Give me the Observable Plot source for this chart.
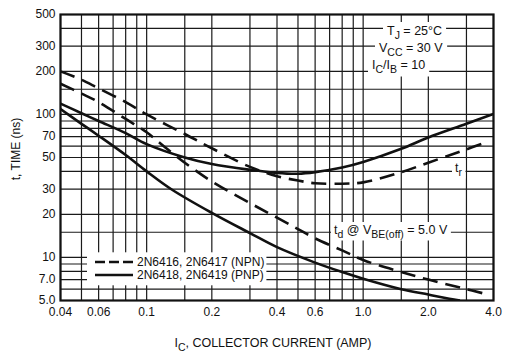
<!DOCTYPE html>
<html><head><meta charset="utf-8">
<script src="https://cdn.jsdelivr.net/npm/d3@7"></script>
<script src="https://cdn.jsdelivr.net/npm/@observablehq/plot@0.6"></script>
<style>html,body{margin:0;padding:0;background:#fff;}</style>
</head><body><div id="chart"></div>
<script>
// ---- data ----
const trNpnCurrent = [0.04,0.05,0.06,0.08,0.1,0.15,0.2,0.3,0.4,0.5,0.6,0.8,1.0,1.5,2.0,3.0,3.6];
const trNpnTime    = [200,175,152,122,100,73,58,43,37,34.5,33,32.8,33.5,39.5,46,57,63];
const tdNpnCurrent = [0.04,0.05,0.06,0.08,0.1,0.12,0.15,0.2,0.3,0.4,0.5,0.6,0.8,1.0,1.5,2.0,3.0,3.6];
const tdNpnTime    = [164,140,122,93,75,60,46,34,24,19,15.8,13.6,11.2,9.6,7.9,7.0,6.0,5.6];
const trPnpCurrent = [0.04,0.05,0.06,0.08,0.1,0.15,0.2,0.3,0.4,0.5,0.6,0.8,1.0,1.5,2.0,3.0,4.0];
const trPnpTime    = [119,102,90,74,62,50,45,41,39,38.5,39.5,42.5,46.5,57.5,69,86,101];
const tdPnpCurrent = [0.04,0.05,0.06,0.08,0.1,0.13,0.2,0.3,0.4,0.6,0.8,1.0,1.5,2.0,2.5,2.8];
const tdPnpTime    = [109,86,71,52,40,30,20.5,14.8,11.8,9.2,7.9,7.1,6.0,5.5,5.15,5.0];

const xTicks = [0.04,0.06,0.1,0.2,0.4,0.6,1,2,4];
const xTickLabels = ["0.04","0.06","0.1","0.2","0.4","0.6","1.0","2.0","4.0"];
const yTicks = [5,7,10,20,30,50,70,100,200,300,500];
const yTickLabels = ["5.0","7.0","10","20","30","50","70","100","200","300","500"];
const xGrid = [0.04,0.05,0.06,0.07,0.08,0.09,0.1,0.15,0.2,0.3,0.4,0.5,0.6,0.7,0.8,0.9,1,1.5,2,3,4];
const yGrid = [5,6,7,8,9,10,15,20,30,40,50,60,70,80,90,100,150,200,300,400,500];

const seriesNames = ["2N6416, 2N6417 (NPN)", "2N6418, 2N6419 (PNP)"];

// ---- build ----
const FONT = "'Liberation Sans', Arial, Helvetica, sans-serif";
const INK = "#111";
const zip = (xs, ys) => xs.map((x, i) => ({x, y: ys[i]}));
const xLab = new Map(xTicks.map((v, i) => [v, xTickLabels[i]]));
const yLab = new Map(yTicks.map((v, i) => [v, yTickLabels[i]]));
const dash = "15,8";
const lineOpts = (dashed) => ({x: "x", y: "y", stroke: INK, strokeWidth: 2.6, curve: "catmull-rom", clip: true, strokeDasharray: dashed ? dash : null, strokeLinecap: "butt"});

const plot = Plot.plot({
  width: 505, height: 354,
  marginLeft: 60, marginRight: 12, marginTop: 14, marginBottom: 54,
  style: {fontFamily: FONT, fontSize: "12px", color: INK, background: "#fff", overflow: "visible"},
  x: {type: "log", domain: [0.04, 4], axis: null},
  y: {type: "log", domain: [5, 500], axis: null},
  marks: [
    Plot.ruleX(xGrid, {stroke: "#1a1a1a", strokeWidth: 1.2}),
    Plot.ruleY(yGrid, {stroke: "#1a1a1a", strokeWidth: 1.2}),
    Plot.line(zip(trNpnCurrent, trNpnTime), lineOpts(true)),
    Plot.line(zip(tdNpnCurrent, tdNpnTime), lineOpts(true)),
    Plot.line(zip(trPnpCurrent, trPnpTime), lineOpts(false)),
    Plot.line(zip(tdPnpCurrent, tdPnpTime), lineOpts(false)),
    Plot.frame({stroke: INK, strokeWidth: 2.2}),
    Plot.text(xTicks, {x: d => d, text: d => xLab.get(d), frameAnchor: "bottom", dy: 15, fontSize: 12, fill: INK}),
    Plot.text(yTicks, {y: d => d, text: d => yLab.get(d), frameAnchor: "left", dx: -5, textAnchor: "end", fontSize: 12, fill: INK})
  ]
});
document.getElementById("chart").appendChild(plot);

const svg = d3.select(plot);

function richText(g, x, y, parts, size = 12.5, anchor = "start") {
  const t = g.append("text").attr("x", x).attr("y", y).attr("fill", INK)
    .attr("text-anchor", anchor)
    .style("font-family", FONT).style("font-size", size + "px");
  let shift = 0;
  for (const [s, kind] of parts) {
    const target = kind === "sub" ? 3.5 : 0;
    const ts = t.append("tspan").text(s);
    if (target - shift !== 0) ts.attr("dy", target - shift);
    if (kind === "sub") ts.style("font-size", (size - 2) + "px");
    shift = target;
  }
  return t;
}
function boxed(parts, x, y, padX, padY, size) {
  const g = svg.append("g");
  const t = richText(g, x, y, parts, size);
  const b = t.node().getBBox();
  g.insert("rect", ":first-child").attr("x", b.x - padX).attr("y", b.y - padY)
    .attr("width", b.width + 2 * padX).attr("height", b.height + 2 * padY).attr("fill", "#fff");
  return g;
}

// conditions
boxed([["T",""],["J","sub"],[" = 25°C",""]], 387, 35, 4, 2, 12.5);
boxed([["V",""],["CC","sub"],[" = 30 V",""]], 379, 52, 4, 2, 12.5);
boxed([["I",""],["C","sub"],["/I",""],["B","sub"],[" = 10",""]], 372, 69, 4, 2, 12.5);

// curve labels
boxed([["t",""],["r","sub"]], 455, 172, 3, 1, 12.5);
boxed([["t",""],["d","sub"],[" @ V",""],["BE(off)","sub"],[" = 5.0 V",""]], 334, 234, 3, 1, 12.5);

// legend
{
  const g = svg.append("g");
  const rows = [{y: 262, dashed: true, name: seriesNames[0]}, {y: 275, dashed: false, name: seriesNames[1]}];
  const inner = g.append("g");
  for (const r of rows) {
    inner.append("line").attr("x1", 95).attr("x2", 133).attr("y1", r.y).attr("y2", r.y)
      .attr("stroke", INK).attr("stroke-width", 2.6)
      .attr("stroke-dasharray", r.dashed ? "10,4" : null);
    richText(inner, 137, r.y + 4.3, [[r.name, ""]], 12);
  }
  const b = inner.node().getBBox();
  g.insert("rect", ":first-child").attr("x", b.x - 8).attr("y", b.y - 3)
    .attr("width", b.width + 10).attr("height", b.height + 6).attr("fill", "#fff");
}

// axis titles
{
  const t = richText(svg, 273, 347, [["I",""],["C","sub"],[", COLLECTOR CURRENT (AMP)",""]], 12.5, "middle");
  t.attr("textLength", 197).attr("lengthAdjust", "spacing");
  svg.append("text").attr("transform", "translate(20,149) rotate(-90)")
    .attr("text-anchor", "middle").attr("fill", INK)
    .style("font-family", FONT).style("font-size", "12px").text("t, TIME (ns)");
}
</script>
</body></html>
